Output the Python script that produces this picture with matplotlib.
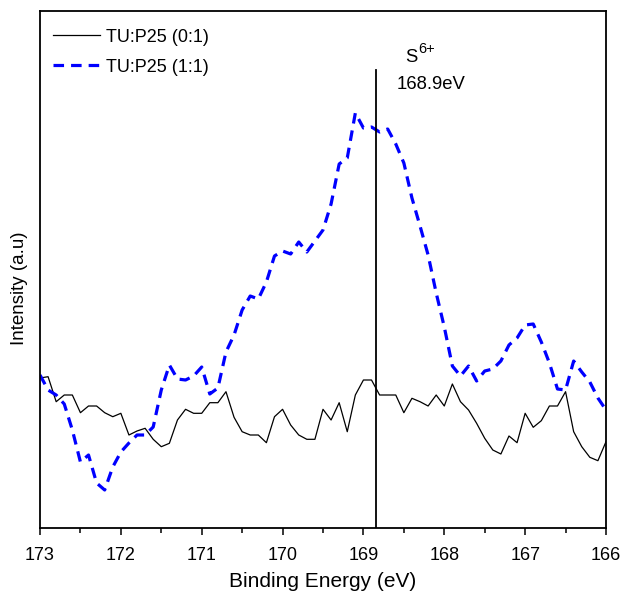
import numpy as np
import matplotlib
matplotlib.use("Agg")
import matplotlib.pyplot as plt
from matplotlib.ticker import MultipleLocator

plt.rcParams['font.family'] = ['Liberation Sans', 'DejaVu Sans']

# Binding energy grid (eV), 173.0 -> 166.0 in 0.1 eV steps
energy = [round(173.0 - 0.1 * k, 1) for k in range(71)]

# TU:P25 (0:1) intensity (a.u.)
tu_01 = [150, 151.3, 126.3, 133, 133, 115.3, 122, 122, 115.3, 111.3,
         114.7, 93, 97, 99.7, 88.7, 81.3, 84.7, 108, 118.7, 114.7,
         114.7, 125.3, 125.3, 136.3, 110.7, 96.3, 93, 93, 85.3, 111.3,
         118.7, 103, 93, 88.7, 88.7, 118.7, 108, 125.3, 96.3, 133,
         148, 148, 133, 133, 133, 115.3, 129.7, 126.3, 122, 133,
         122, 144, 126.3, 118, 104.7, 89.7, 78, 74, 92, 85.3,
         114.7, 100.7, 107.3, 122, 122, 136.3, 96.3, 81.3, 70.7, 67.3,
         86.3]

# TU:P25 (1:1) intensity (a.u.)
tu_11 = [153, 138, 133, 124, 98, 66, 73, 45, 38, 61,
         76, 85, 93, 93, 101, 138, 163, 149, 148, 152,
         161, 134, 140, 176, 193, 218, 232, 229, 246, 272,
         277, 274, 286, 276, 287, 298, 324, 364, 370, 415,
         400, 401, 396, 399, 384, 365, 330, 302, 273, 235,
         201, 162, 152, 162, 147, 157, 159, 167, 183, 190,
         203, 204, 186, 165, 139, 138, 167, 156, 146, 130,
         118]

peak_pos = 168.85
peak_label = "168.9eV"
species = "S"
charge = "6+"

fig = plt.figure(figsize=(6.23, 5.91), dpi=100)
ax = fig.add_axes([40 / 623, (591 - 528) / 591, (606 - 40) / 623, (528 - 11) / 591])

ax.plot(energy, tu_01, color='black', lw=0.9, label='TU:P25 (0:1)')
ax.plot(energy, tu_11, color='#0000ff', lw=2.3, linestyle=(0, (3.3, 2.2)),
        label='TU:P25 (1:1)')

ax.set_xlim(173, 166)
ax.set_ylim(0, 517)
ax.axvline(peak_pos, ymin=0, ymax=(528 - 70) / 517, color='black', lw=1.3)

ax.text(peak_pos - 0.37, 528 - 62, species, fontsize=13.3, ha='left', va='baseline')
ax.text(peak_pos - 0.53, 528 - 53, charge, fontsize=10.5, ha='left', va='baseline')
ax.text(peak_pos - 0.26, 528 - 89, peak_label, fontsize=13.3, ha='left', va='baseline')

ax.xaxis.set_major_locator(MultipleLocator(1))
ax.xaxis.set_minor_locator(MultipleLocator(0.5))
ax.set_xticks(np.arange(166, 174, 1))
ax.set_xticklabels([str(v) for v in range(166, 174)])
ax.tick_params(axis='x', which='major', direction='out', length=5, width=1.1,
               labelsize=13, pad=8.5)
ax.tick_params(axis='x', which='minor', direction='out', length=3.5, width=1.1)
ax.set_yticks([])

for s in ax.spines.values():
    s.set_linewidth(1.3)

ax.set_xlabel('Binding Energy (eV)', fontsize=15, labelpad=6)
ax.set_ylabel('Intensity (a.u)', fontsize=13.5)
ax.yaxis.set_label_coords(-0.021, (528 - 288) / 517)

ax.legend(loc='upper left', frameon=False, fontsize=13, handlelength=2.65,
          handletextpad=0.3, borderaxespad=0.3, borderpad=0.4, labelspacing=0.72,
          bbox_to_anchor=(0, 0.99))

fig.savefig('out.png', dpi=100)
